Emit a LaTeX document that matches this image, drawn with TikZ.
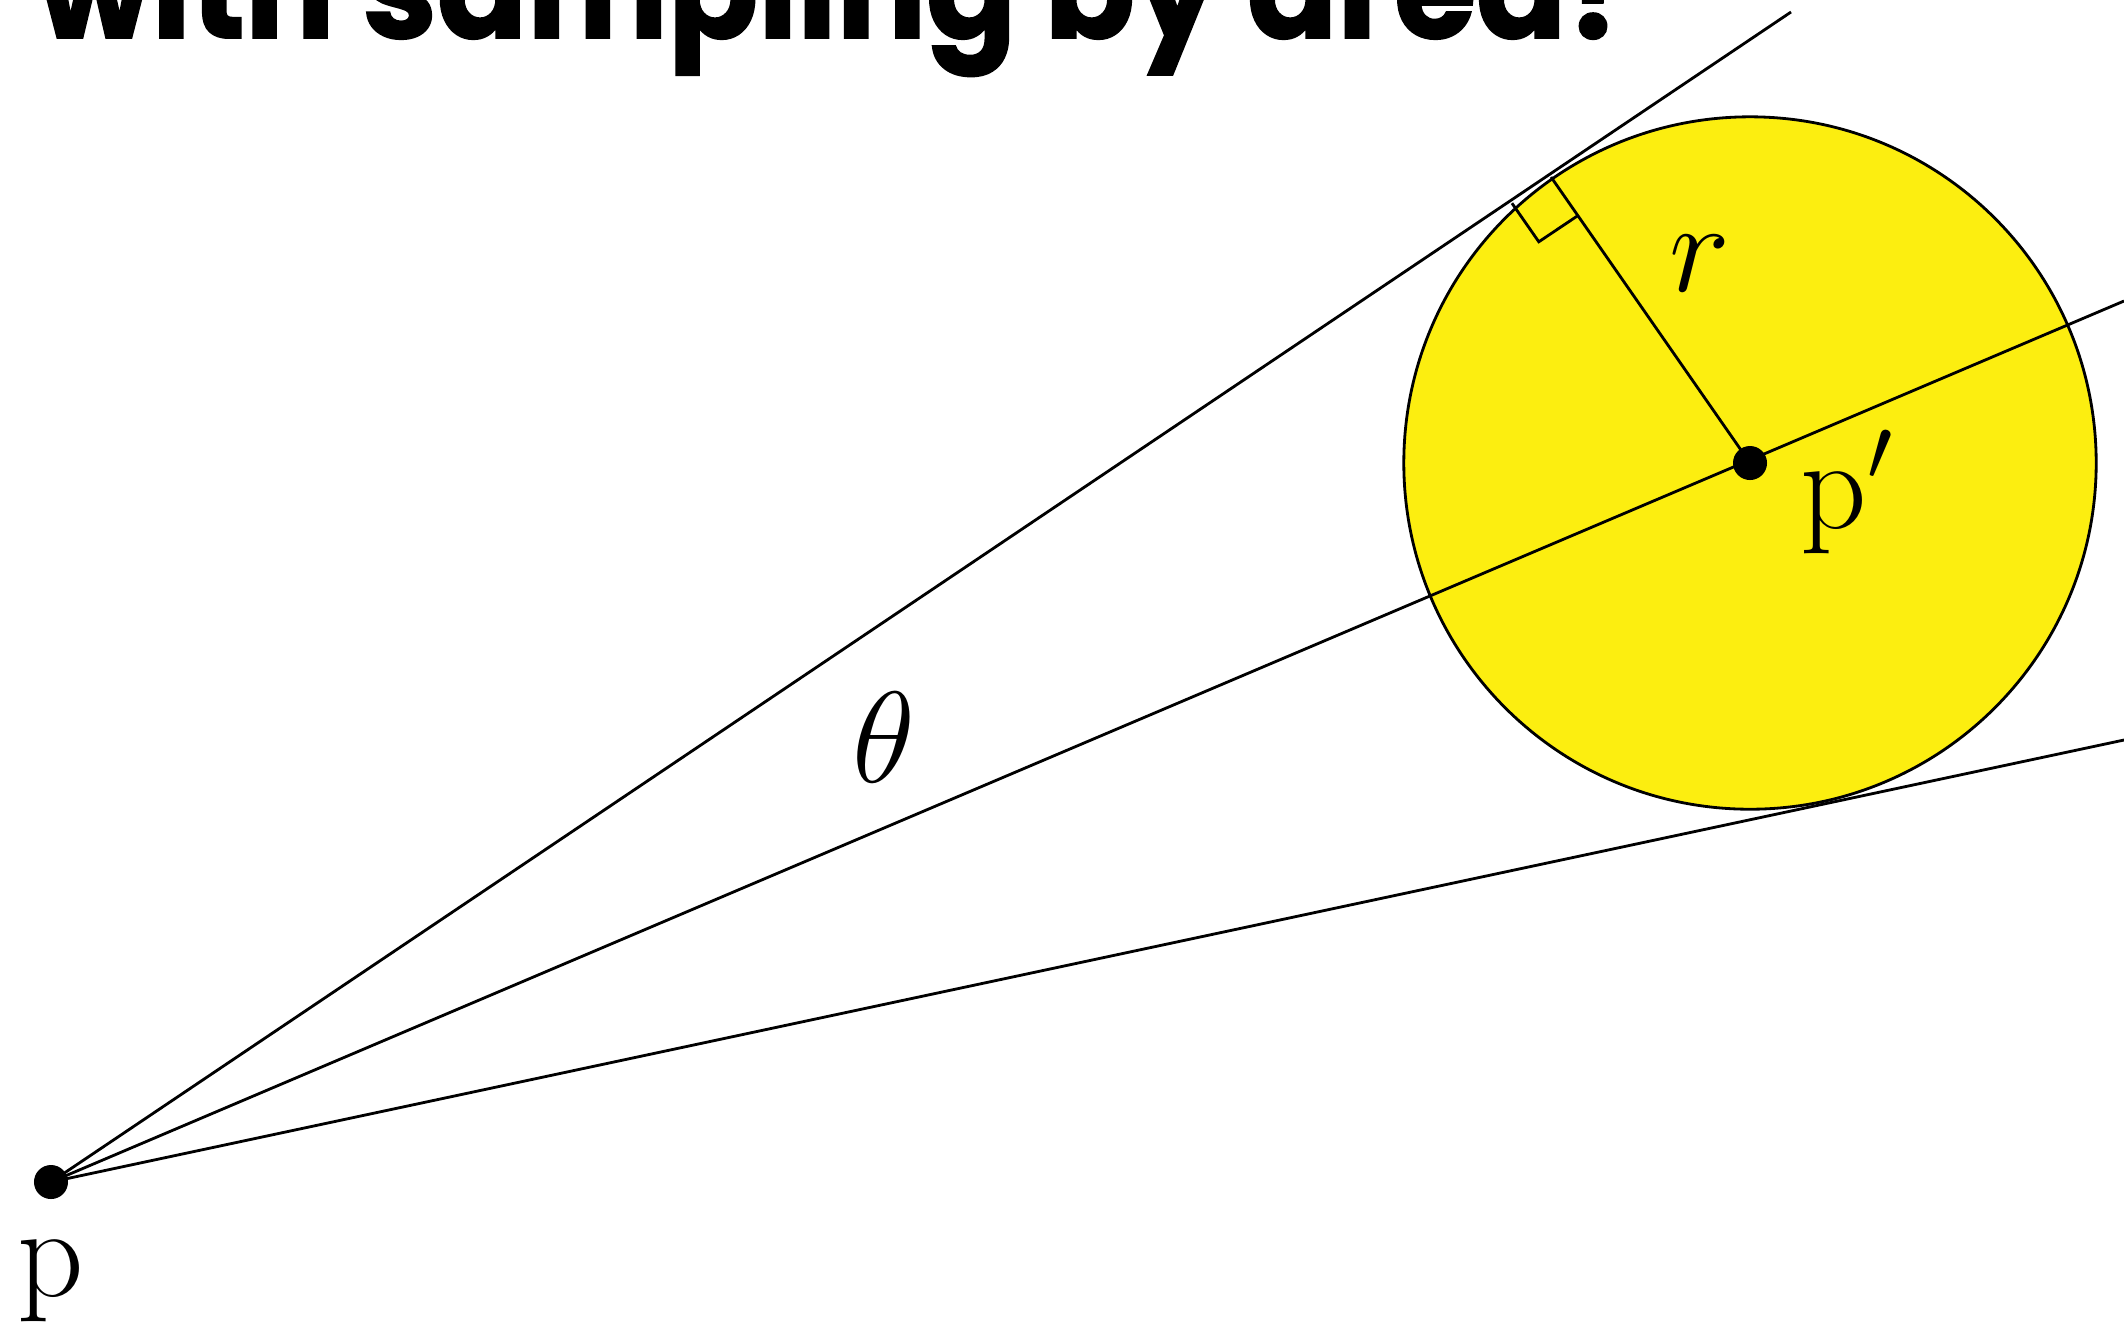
\documentclass[tikz,border=0pt]{standalone}
\usepackage{fontspec}
\newfontfamily\titlefont{Poppins}[BoldFeatures={FakeBold=1.4}]
\usetikzlibrary{calc}
\definecolor{sunyellow}{HTML}{FCEE10}
\newcommand{\biglbl}[1]{\scalebox{1.78}{\fontsize{20.74}{25}\selectfont #1}}
\begin{document}
\begin{tikzpicture}[x=0.01cm,y=-0.01cm,
  dot/.style={circle,fill=black,inner sep=0pt,minimum size=0.34cm},
  ray/.style={line width=0.8pt},
  lbl/.style={inner sep=0pt}]
\useasboundingbox (0,0) rectangle (2124,1326);
\clip (0,0) rectangle (2124,1326);
% title (cut off at top)
\node[anchor=base west,inner sep=0pt] (title) at (36,38)
  {\scalebox{1}[1.05]{\resizebox{16.0cm}{!}{\titlefont\bfseries with sampling by area?}}};
% disc
\node[circle,draw=black,fill=sunyellow,line width=0.8pt,inner sep=0pt,minimum size=6.92cm] (disc) at (1750,463) {};
% points
\coordinate (p0) at (51,1182);
\coordinate (c0) at (1750,463);
\coordinate (upEnd) at (1791,12);
\coordinate (midEnd) at (2124,301);
\coordinate (lowEnd) at (2124,740);
\coordinate (t) at (1551,177);
% rays
\draw[ray] (p0) -- (upEnd);
\draw[ray] (p0) -- (midEnd);
\draw[ray] (p0) -- (lowEnd);
% radius
\draw[ray] (c0) -- (t);
% right-angle mark
\coordinate (ra) at ($(t)!0.47cm!(c0)$);
\coordinate (rb) at ($(t)!0.47cm!(p0)$);
\draw[ray] (ra) -- ($(ra)+(rb)-(t)$) -- (rb);
% dots
\node[dot] (p) at (p0) {};
\node[dot] (pp) at (c0) {};
% labels
\node[lbl] (plabel) at (51,1281) {\biglbl{p}};
\node[lbl,anchor=base west] (pplabel) at (1800,528) {\biglbl{p$'$}};
\node[lbl] (rlabel) at (1700,264) {\biglbl{$r$}};
\node[lbl] (thlabel) at (884,737) {\biglbl{$\theta$}};
\end{tikzpicture}
\end{document}
